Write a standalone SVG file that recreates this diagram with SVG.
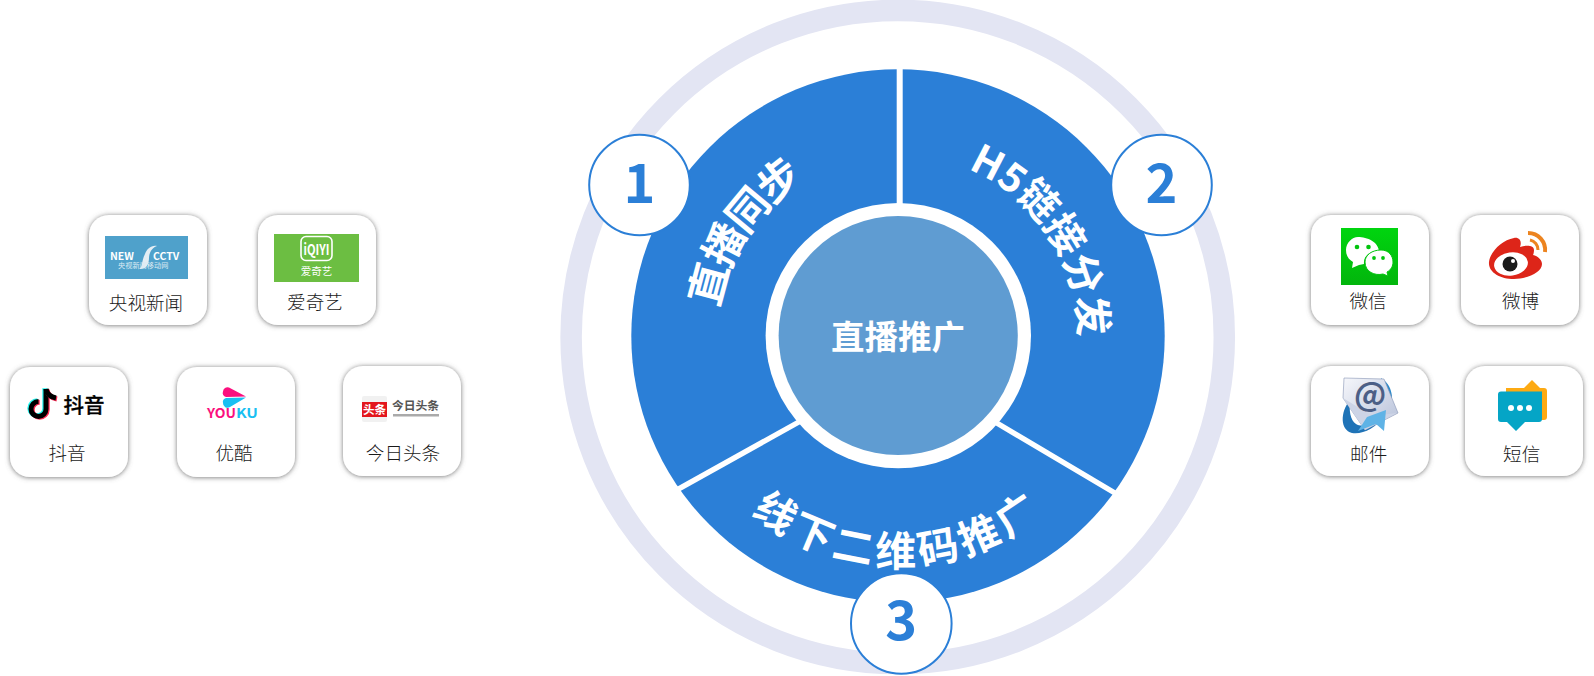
<svg xmlns="http://www.w3.org/2000/svg" width="1594" height="676" viewBox="0 0 1594 676">
<defs>
<filter id="sh" x="-20%" y="-20%" width="140%" height="140%"><feDropShadow dx="0" dy="0.5" stdDeviation="2.6" flood-color="#666" flood-opacity="0.9"/></filter>
<linearGradient id="wx" x1="0" y1="0" x2="0" y2="1"><stop offset="0" stop-color="#00D50F"/><stop offset="1" stop-color="#02B50C"/></linearGradient>
<linearGradient id="env" x1="0" y1="0" x2="1" y2="1"><stop offset="0" stop-color="#F6F7FB"/><stop offset="1" stop-color="#B4BFD8"/></linearGradient>
<path id="arcTop1" d="M-181 0A181 181 0 0 1 181 0"/>
<path id="arcBot" d="M-230 0A230 230 0 0 0 230 0"/>
</defs>
<style>
text{font-family:"Noto Sans CJK SC","Noto Sans",sans-serif}
.card{fill:#fff;filter:url(#sh)}
.lab{font-size:18.6px;fill:#1a1a1a;text-anchor:middle;font-weight:300}
.big{font-weight:700;fill:#fff;text-anchor:middle}
.num{font-size:54px;font-weight:700;fill:#2B7FD7;text-anchor:middle}
.badge{fill:#fff;stroke:#2B7FD7;stroke-width:2}
</style>
<g id="wheel">
<circle cx="897.7" cy="337" r="326.6" fill="none" stroke="#E3E5F3" stroke-width="21.5"/>
<circle cx="898" cy="336" r="266.7" fill="#2B7FD7"/>
<g id="dividers" stroke="#fff" stroke-width="5.400">
<line x1="899.700" y1="60" x2="899.700" y2="260" stroke-width="6"/>
<line x1="672" y1="492.600" x2="815" y2="413"/>
<line x1="985" y1="416" x2="1125" y2="499"/>
</g>
<circle cx="898.3" cy="335.6" r="132.7" fill="#fff"/>
<circle cx="898.2" cy="335.5" r="119.6" fill="#5F9CD2"/>
</g>
<g id="center-label"><text class="big" x="898" y="349" font-size="33.5">直播推广</text></g>
<g id="seg1"><text class="big" font-size="42" letter-spacing="-3" transform="translate(898 336) rotate(-56.500)"><textPath href="#arcTop1" startOffset="50%">直播同步</textPath></text></g>
<g id="seg2"><text class="big" font-size="40" letter-spacing="0" transform="translate(898 336) rotate(56.500)"><textPath href="#arcTop1" startOffset="50%">H5链接分发</textPath></text></g>
<g id="seg3"><text class="big" font-size="41" letter-spacing="4.500" transform="translate(898 336)"><textPath href="#arcBot" startOffset="50%">线下二维码推广</textPath></text></g>
<g id="badge1"><circle class="badge" cx="639.5" cy="185" r="50.3"/><text class="num" x="639.5" y="203">1</text></g>
<g id="badge2"><circle class="badge" cx="1161.5" cy="185" r="50.3"/><text class="num" x="1161.5" y="203">2</text></g>
<g id="badge3"><circle class="badge" cx="901.3" cy="623.5" r="50.3"/><text class="num" x="901.3" y="640">3</text></g>

<g id="cctv"><rect class="card" x="89" y="215" width="118" height="110" rx="20"/>
<rect x="105" y="236" width="83" height="43" fill="#4FA1CB"/>
<text x="110" y="260" font-size="10.5" font-weight="700" fill="#fff" font-family="Liberation Sans,sans-serif">NEW</text>
<path d="M145 254C141 262 143 267 139 269C146 270 149 264 149 258C149 252 153 247 157 246C151 245 147 249 145 254Z" fill="#E4EEF4"/>
<text x="153" y="260" font-size="10.5" font-weight="700" fill="#fff" font-family="Liberation Sans,sans-serif">CCTV</text>
<text x="118" y="268" font-size="7.2" fill="#DCEAF3">央视新闻移动网</text>
<text class="lab" x="146" y="310">央视新闻</text></g>

<g id="iqiyi"><rect class="card" x="258" y="215" width="118" height="110" rx="20"/>
<rect x="274" y="234" width="85" height="48" fill="#6CBE42"/>
<rect x="301" y="236.500" width="31" height="24" rx="5" fill="none" stroke="#fff" stroke-width="1.600"/>
<text x="316.500" y="255" font-size="15" font-weight="700" fill="#fff" text-anchor="middle" font-family="Liberation Sans Narrow,Liberation Sans,sans-serif" textLength="26" lengthAdjust="spacingAndGlyphs">iQIYI</text>
<text x="316.500" y="275" font-size="10.500" fill="#fff" text-anchor="middle">爱奇艺</text>
<text class="lab" x="315" y="309">爱奇艺</text></g>

<g id="douyin"><rect class="card" x="10" y="367" width="118" height="110" rx="20"/>
<g fill="none" stroke-width="5"><path d="M46 389V409A7.500 7.500 0 1 1 38.500 401.500" stroke="#25F4EE" transform="translate(-1.200 -0.800)"/><path d="M46 389V409A7.500 7.500 0 1 1 38.500 401.500" stroke="#FE2C55" transform="translate(1.200 0.800)"/><path d="M46 389V409A7.500 7.500 0 1 1 38.500 401.500" stroke="#000"/><path d="M46 389C47 395 51 397 56 398" stroke="#FE2C55" transform="translate(1 1)"/><path d="M46 389C47 395 51 397 56 398" stroke="#000"/></g>
<text x="84" y="413" font-size="20.500" font-weight="500" fill="#000" text-anchor="middle" stroke="#000" stroke-width=".3">抖音</text>
<text class="lab" x="67" y="459.500">抖音</text></g>

<g id="youku"><rect class="card" x="177" y="367" width="118" height="110" rx="20"/>
<path d="M223 391.500A4.500 4.500 0 0 1 229 387.500L246 396.500L226 397A4 4 0 0 1 223 391.500Z" fill="#FB0F7E"/>
<path d="M223 403A4 4 0 0 1 226 398L246 397.500L230 407A4.500 4.500 0 0 1 223 403Z" fill="#19BFF2"/>
<text x="207" y="418" font-size="13" font-weight="700" fill="#FB0F7E" font-family="Liberation Sans,sans-serif" textLength="29" lengthAdjust="spacingAndGlyphs">YOU</text>
<text x="236" y="418" font-size="13" font-weight="700" fill="#19BFF2" font-family="Liberation Sans,sans-serif" textLength="22" lengthAdjust="spacingAndGlyphs">KU</text>
<text class="lab" x="234" y="459.500">优酷</text></g>

<g id="toutiao"><rect class="card" x="343" y="366" width="118" height="110" rx="20"/>
<rect x="362" y="396" width="25" height="26" rx="2" fill="#F1F1F1"/>
<rect x="362" y="402" width="25" height="15" fill="#E3161D"/>
<text x="374.500" y="414" font-size="11.500" font-weight="700" fill="#fff" text-anchor="middle">头条</text>
<text x="415.500" y="410" font-size="11.800" font-weight="700" fill="#555" text-anchor="middle">今日头条</text>
<rect x="393" y="414" width="46" height="2.500" fill="#aaa"/>
<text class="lab" x="403" y="459.500">今日头条</text></g>

<g id="wechat"><rect class="card" x="1311" y="215" width="118" height="110" rx="20"/>
<rect x="1341" y="228" width="57" height="57" fill="url(#wx)"/>
<path d="M1358 237C1367 237 1379 242 1379 252C1372 250 1363 255 1364 264L1359 265L1352 268L1353 262C1348 259 1346 255 1346 250C1346 243 1352 237 1358 237Z" fill="#fff"/>
<path d="M1381 250C1389 250 1393 256 1393 262C1393 266 1391 270 1387 272L1388 276L1383 274C1375 276 1365 272 1365 262C1365 255 1372 250 1381 250Z" fill="#fff" stroke="#02C40D" stroke-width="1"/>
<g fill="#02C40D"><circle cx="1357" cy="247" r="2.300"/><circle cx="1368.500" cy="247" r="2.300"/><circle cx="1374" cy="258" r="1.900"/><circle cx="1383" cy="258" r="1.900"/></g>
<text class="lab" x="1368" y="308">微信</text></g>

<g id="weibo"><rect class="card" x="1461" y="215" width="118" height="110" rx="20"/>
<path d="M1489 262C1490 252 1502 240 1514 238C1520 237 1522 242 1520 247C1526 245 1534 245 1534 250C1534 253 1533 255 1533 255C1538 256 1542 260 1542 264C1542 272 1528 279 1514 279C1500 279 1488 272 1489 262Z" fill="#DD2519"/>
<ellipse cx="1511" cy="264" rx="17" ry="11.500" fill="#fff" transform="rotate(-8 1511 264)"/>
<circle cx="1510" cy="264" r="7.500" fill="#1B1B1B"/><circle cx="1513" cy="261" r="2" fill="#fff"/>
<g fill="none" stroke="#EC8420" stroke-linecap="butt"><path d="M1528 233A17 17 0 0 1 1545 252" stroke-width="4"/><path d="M1530 240A10 10 0 0 1 1538 250" stroke-width="3"/></g>
<text class="lab" x="1520.500" y="308">微博</text></g>

<g id="mail"><rect class="card" x="1311" y="366" width="118" height="110" rx="20"/>
<path d="M1350 400C1340 412 1340 430 1352 433C1362 435 1376 428 1384 416C1376 424 1362 428 1356 424C1350 420 1349 410 1350 400Z" fill="#1F73B7"/>
<path d="M1381 378C1393 385 1394 400 1390 410L1386 392Z" fill="#2C8ACB"/>
<polygon points="1344,378 1384,379 1398,413 1365,430 1343,398" fill="url(#env)" stroke="#8794B3" stroke-width=".6"/>
<polygon points="1343,398 1372,416 1397,413 1365,430" fill="#CDD4E6"/>
<text x="1370" y="406" font-size="32" fill="#4C5F86" text-anchor="middle" font-weight="700" font-family="Liberation Sans,sans-serif">@</text>
<polygon points="1367,417 1386,410 1384,431 1376,424 1358,431" fill="#5FB3E6"/>
<text class="lab" x="1368.700" y="460.500">邮件</text></g>

<g id="sms"><rect class="card" x="1465" y="366" width="118" height="110" rx="20"/>
<path d="M1506 388H1524L1532 380L1540 388H1544Q1547 388 1547 391V417Q1547 420 1544 420H1506Z" fill="#FDAA13"/>
<path d="M1501 391.500H1542V419Q1542 422 1539 422H1525L1516 431L1507 422H1501Q1498 422 1498 419V394.500Q1498 391.500 1501 391.500Z" fill="#05A5C6"/>
<g fill="#fff"><circle cx="1511" cy="408" r="3"/><circle cx="1520" cy="408" r="3"/><circle cx="1529" cy="408" r="3"/></g>
<text class="lab" x="1521.700" y="460.500">短信</text></g>
</svg>
